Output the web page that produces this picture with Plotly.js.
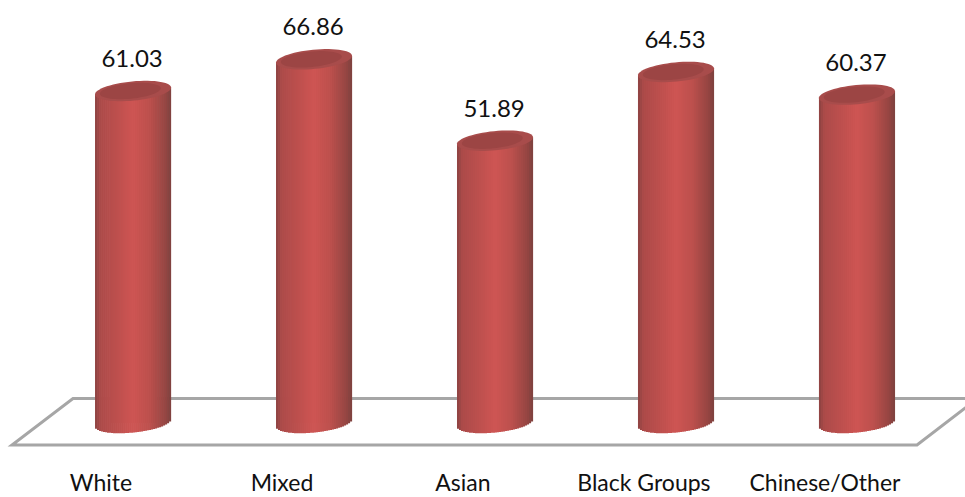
<!DOCTYPE html>
<html>
<head>
<meta charset="utf-8">
<script src="https://cdn.plot.ly/plotly-3.0.1.min.js"></script>
<style>html,body{margin:0;padding:0;background:#fff}#chart{width:965px;height:497px}</style>
</head>
<body>
<div id="chart"></div>
<script>
// Percentages by ethnic group
const categories = ['White', 'Mixed', 'Asian', 'Black Groups', 'Chinese/Other'];
const values = [61.03, 66.86, 51.89, 64.53, 60.37];

const W = 965, H = 467;
const xRange = [-0.735, 4.597];
const yRange = [-8.09, 77.76];
const pxX = W / (xRange[1] - xRange[0]);
const pxY = H / (yRange[1] - yRange[0]);

// Cylinder proportions
const halfWidth = 38 / pxX;
const capA = 38.2;           // semi-major axis, px
const capB = 9.6;            // semi-minor axis, px
const tilt = -5.5 * Math.PI / 180;
const stripCount = 38;

// Cylinder shading from the left edge to the right edge
const stops = [[0, [140, 66, 66]], [0.07, [172, 74, 73]], [0.3, [190, 80, 78]], [0.5, [206, 85, 83]],
               [0.72, [188, 80, 77]], [0.92, [150, 69, 66]], [1, [125, 66, 63]]];
function shade(t) {
  for (let i = 1; i < stops.length; i++) {
    if (t <= stops[i][0]) {
      const f = (t - stops[i - 1][0]) / (stops[i][0] - stops[i - 1][0]);
      const c = stops[i - 1][1].map((v, k) => Math.round(v + (stops[i][1][k] - v) * f));
      return `rgb(${c.join(',')})`;
    }
  }
  return 'rgb(125,66,63)';
}

// Rise of the tilted centre line at a horizontal offset u in [-1, 1], in y-axis units
const rise = u => -u * capA * Math.tan(tilt) / pxY;
// Depth of the lower arc below the centre line, in y-axis units
const arc = u => capB * Math.sqrt(Math.max(0, 1 - u * u)) / pxY;

const xs = categories.map((_, i) => i);
const traces = [{
  type: 'bar', x: xs, y: values, width: halfWidth * 1.2,
  marker: { color: 'rgb(190,80,78)' }, hoverinfo: 'skip', showlegend: false
}];

// Narrow strips build the shading and follow the tilted ends of each cylinder
for (let s = 0; s < stripCount; s++) {
  const t = (s + 0.5) / stripCount;
  const u = 2 * t - 1;
  const bottom = rise(u) - arc(u);
  const offset = -halfWidth + s * (2 * halfWidth / stripCount);
  traces.push({
    type: 'bar', x: xs,
    y: values.map(v => v + rise(u) - bottom),
    base: values.map(() => bottom),
    offset: offset, width: 2 * halfWidth / stripCount + 0.0006,
    marker: { color: shade(t), line: { width: 0 } },
    hoverinfo: 'skip', showlegend: false
  });
}

// Value labels above each cylinder
traces.push({
  type: 'scatter', mode: 'text', x: xs.map(i => i - 0.005), y: values.map(v => v + 5.5),
  text: values.map(v => v.toFixed(2)), textposition: 'middle center',
  textfont: { family: 'Lato, Carlito, sans-serif', size: 24, color: '#111' },
  hoverinfo: 'skip', showlegend: false
});

// Elliptical cap as an SVG path in data coordinates
function ellipsePath(cx, cy, scale) {
  const pts = [];
  for (let k = 0; k < 60; k++) {
    const a = k / 60 * 2 * Math.PI;
    const ex = capA * scale * Math.cos(a), ey = capB * scale * Math.sin(a);
    const rx = ex * Math.cos(tilt) - ey * Math.sin(tilt);
    const ry = ex * Math.sin(tilt) + ey * Math.cos(tilt);
    pts.push(`${k ? 'L' : 'M'}${(cx + rx / pxX).toFixed(4)},${(cy - ry / pxY).toFixed(4)}`);
  }
  return pts.join(' ') + ' Z';
}

const px = x => x / W;
const py = y => (H - y) / H;
const shapes = [
  { type: 'path', xref: 'paper', yref: 'paper', layer: 'below',
    path: `M${px(973)},${py(398.5)} L${px(73)},${py(398.5)} L${px(12)},${py(445)} L${px(917)},${py(445)} L${px(973)},${py(402)}`,
    line: { color: '#a6a6a6', width: 3 } }
];
values.forEach((v, i) => {
  shapes.push({ type: 'path', path: ellipsePath(i, v, 1), fillcolor: '#a84c4b', line: { width: 0 }, layer: 'above' });
  shapes.push({ type: 'path', path: ellipsePath(i - 0.015, v, 0.8), fillcolor: '#9c4544', line: { width: 0 }, layer: 'above' });
});

const layout = {
  width: 965, height: 497,
  margin: { l: 0, r: 0, t: 0, b: 30 },
  paper_bgcolor: '#fff', plot_bgcolor: 'rgba(0,0,0,0)',
  barmode: 'overlay', showlegend: false,
  font: { family: 'Lato, Carlito, sans-serif' },
  xaxis: {
    range: xRange, showgrid: false, zeroline: false, showline: false,
    tickmode: 'array', tickvals: xs.map(i => i - 0.177), ticktext: categories,
    ticks: '', ticklabelstandoff: 0,
    tickfont: { family: 'Lato, Carlito, sans-serif', size: 23, color: '#111' }
  },
  yaxis: { range: yRange, visible: false, showgrid: false, zeroline: false },
  shapes: shapes
};

Plotly.newPlot('chart', traces, layout, { displayModeBar: false, staticPlot: true });
</script>
</body>
</html>
